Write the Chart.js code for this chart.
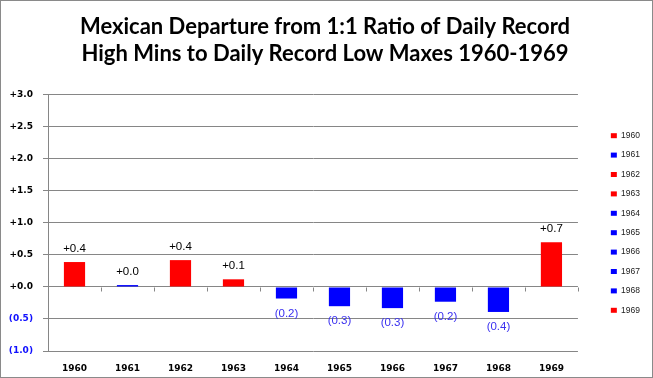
<!DOCTYPE html>
<html>
<head>
<meta charset="utf-8">
<script src="https://cdn.jsdelivr.net/npm/chart.js@4.4.0/dist/chart.umd.min.js"></script>
<style>
html,body{margin:0;padding:0;background:#fff;}
#wrap{width:653px;height:378px;position:relative;}
</style>
</head>
<body>
<div id="wrap"><canvas id="c" width="653" height="378"></canvas></div>
<script>
const titleLines = ['Mexican Departure from 1:1 Ratio of Daily Record', 'High Mins to Daily Record Low Maxes 1960-1969'];
const years = ['1960','1961','1962','1963','1964','1965','1966','1967','1968','1969'];
const departures = [0.39, 0.03, 0.42, 0.12, -0.18, -0.30, -0.33, -0.23, -0.39, 0.70];
const barColors = ['#FF0000','#0000FF','#FF0000','#FF0000','#0000FF','#0000FF','#0000FF','#0000FF','#0000FF','#FF0000'];
const yMin = -1.0, yMax = 3.0, yStep = 0.5;

const NEG_AXIS = '#1010FF';
const NEG_LABEL = '#3A30F0';
const GRID = '#868686';

function fmt(v){
  return v >= 0 ? '+' + v.toFixed(1) : '(' + Math.abs(v).toFixed(1) + ')';
}

const bgPlugin = {
  id:'bg',
  beforeDraw(chart){
    const c = chart.ctx;
    c.save(); c.fillStyle = '#fff'; c.fillRect(0,0,chart.width,chart.height); c.restore();
  },
  afterDraw(chart){
    const c = chart.ctx;
    c.save(); c.strokeStyle = '#8a8a8a'; c.lineWidth = 1;
    c.strokeRect(0.5,0.5,chart.width-1,chart.height-1); c.restore();
  }
};

const zeroTicks = {
  id:'zeroTicks',
  afterDatasetsDraw(chart){
    const c = chart.ctx, xs = chart.scales.x, ys = chart.scales.y;
    const y0 = Math.round(ys.getPixelForValue(0)) + 0.5;
    c.save(); c.strokeStyle = GRID; c.lineWidth = 1;
    for (let i = 0; i < years.length; i++){
      const px = Math.round(xs.getPixelForValue(i + 0.5)) + 0.5;
      c.beginPath(); c.moveTo(px, y0); c.lineTo(px, y0 + 4); c.stroke();
    }
    c.restore();
  }
};

const valueLabels = {
  id:'valueLabels',
  afterDatasetsDraw(chart){
    const c = chart.ctx, meta = chart.getDatasetMeta(0);
    c.save();
    c.font = '11.5px "Liberation Sans", Arial, sans-serif';
    c.textAlign = 'center'; c.textBaseline = 'middle';
    meta.data.forEach((bar, i) => {
      const v = departures[i];
      c.fillStyle = v >= 0 ? '#000' : NEG_LABEL;
      const y = v >= 0 ? bar.y - 13 : bar.y + 15;
      c.fillText(fmt(v), bar.x, y);
    });
    c.restore();
  }
};

new Chart(document.getElementById('c'), {
  type:'bar',
  data:{
    labels: years,
    datasets:[{
      data: departures,
      backgroundColor: barColors,
      borderWidth: 0,
      barPercentage: 0.4,
      categoryPercentage: 1.0,
      yAxisID: 'y'
    }]
  },
  options:{
    responsive:false,
    animation:false,
    layout:{padding:{left:0,right:3,top:0,bottom:0}},
    plugins:{
      title:{
        display:true,
        text:titleLines,
        color:'#000',
        font:{family:'Lato', weight:'bold', size:22, lineHeight:1.227},
        padding:{top:13,bottom:28}
      },
      legend:{
        display:true,
        position:'right',
        fullSize:false,
        align:'center',
        labels:{
          boxWidth:6,
          boxHeight:5,
          padding:10.9,
          color:'#222',
          font:{family:'Liberation Sans', size:8.5},
          generateLabels: () => years.map((y,i) => ({
            text:y, fillStyle:barColors[i], strokeStyle:barColors[i], lineWidth:0,
            hidden:false, index:i, datasetIndex:0, fontColor:'#222'
          }))
        }
      },
      tooltip:{enabled:false}
    },
    scales:{
      x:{
        grid:{display:false, drawTicks:false},
        border:{display:false},
        ticks:{
          color:'#000',
          padding:12.5,
          font:{family:'DejaVu Sans', weight:'bold', size:9}
        },
        afterFit: s => { s.height = 27; }
      },
      y:{
        position:'left',
        min:yMin, max:yMax,
        ticks:{
          stepSize:yStep,
          padding:10,
          font:{family:'DejaVu Sans', weight:'bold', size:9},
          color: ctx => ctx.tick.value < 0 ? NEG_AXIS : '#000',
          callback: v => fmt(v)
        },
        grid:{color:GRID, lineWidth:1, tickLength:5, drawTicks:true},
        border:{color:GRID, width:1},
        afterFit: s => { s.width = 48; }
      },
      y2:{
        position:'right',
        display:true,
        grid:{display:false, drawTicks:false},
        border:{display:false},
        ticks:{display:false},
        afterFit: s => { s.width = 22; }
      }
    }
  },
  plugins:[bgPlugin, zeroTicks, valueLabels]
});
</script>
</body>
</html>
